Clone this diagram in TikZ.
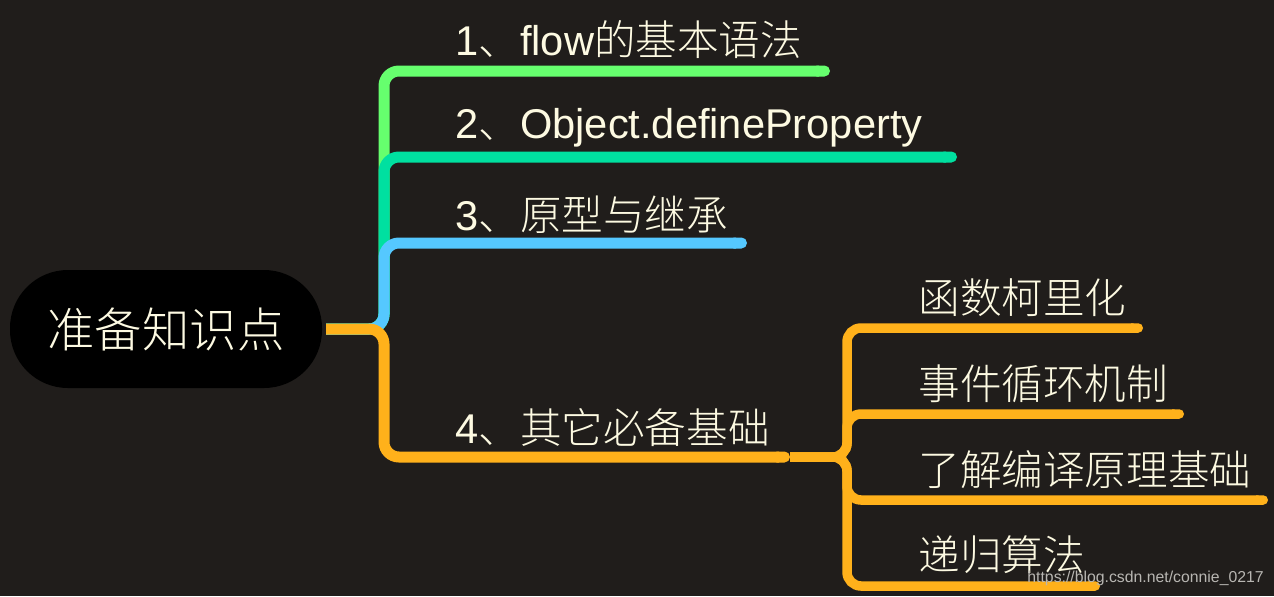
\documentclass[tikz,border=0pt]{standalone}
\usepackage{fontspec}
\usetikzlibrary{arrows.meta}
\setmainfont{Liberation Sans}
\newfontfamily\cjk{Noto Sans CJK SC Light}
\newcommand\zh[1]{{\cjk #1}}
\definecolor{bg}{HTML}{201D1B}
\definecolor{txt}{HTML}{FDFAE2}
\definecolor{greenb}{HTML}{66FF6E}
\definecolor{tealb}{HTML}{00E0A0}
\definecolor{blueb}{HTML}{55C8FF}
\definecolor{orangeb}{HTML}{FFB11B}
\definecolor{wm}{HTML}{B8B6B2}

\begin{document}
\begin{tikzpicture}[x=0.5pt,y=-0.5pt,
  branch/.style={line width=5.5pt,rounded corners=7.5pt,-{Round Cap[]}},
  leaf/.style={draw=orangeb,line width=4.75pt,rounded corners=7pt,-{Round Cap[]}},
  lbl/.style={anchor=base west,inner sep=0pt,text=txt,font=\fontsize{20.8}{24}\selectfont}]
  \fill[bg] (0,0) rectangle (1274,596);
  % root
  \node[fill=black,rounded corners=29pt,minimum width=156pt,minimum height=59pt,
    outer sep=2pt,text=txt,font=\cjk\fontsize{23.7}{28}\selectfont] (root) at (166,329) {准备知识点};
  \coordinate (fork) at (384,329);
  \coordinate (e1) at (830,71);
  \coordinate (e2) at (957,157);
  \coordinate (e3) at (747,243);
  \coordinate (e4) at (790,457);
  % main branches
  \draw[branch,greenb] (root.east) -- (fork) |- (e1);
  \draw[branch,tealb] (root.east) -- (fork) |- (e2);
  \draw[branch,blueb] (root.east) -- (fork) |- (e3);
  \draw[branch,orangeb] (root.east) -- (fork) |- (e4);
  \node[lbl] (b1) at (455,55) {1\zh{、}flow\zh{的基本语法}};
  \node[lbl] (b2) at (455,138) {2\zh{、}Object.defineProperty};
  \node[lbl] (b3) at (455,230) {3\zh{、原型与继承}};
  \node[lbl] (b4) at (455,443) {4\zh{、其它必备基础}};
  % sub branches of 4
  \coordinate (hub) at (847,457);
  \coordinate (c1) at (1143,328);
  \coordinate (c2) at (1184,414);
  \coordinate (c3) at (1268,500);
  \coordinate (c4) at (1100,586);
  \draw[leaf] (e4) -- (hub) |- (c1);
  \draw[leaf] (e4) -- (hub) |- (c2);
  \draw[leaf] (e4) -- (hub) |- (c3);
  \draw[leaf] (e4) -- (hub) |- (c4);
  \node[lbl,font=\cjk\fontsize{20.8}{24}\selectfont] (s1) at (918,313) {函数柯里化};
  \node[lbl,font=\cjk\fontsize{20.8}{24}\selectfont] (s2) at (918,399) {事件循环机制};
  \node[lbl,font=\cjk\fontsize{20.8}{24}\selectfont] (s3) at (918,485) {了解编译原理基础};
  \node[lbl,font=\cjk\fontsize{20.8}{24}\selectfont] (s4) at (918,570) {递归算法};
  \node[anchor=base west,inner sep=0pt,text=wm,font=\fontsize{7.9}{9}\selectfont] (wmark) at (1027,582) {https://blog.csdn.net/connie\_0217};
\end{tikzpicture}
\end{document}
